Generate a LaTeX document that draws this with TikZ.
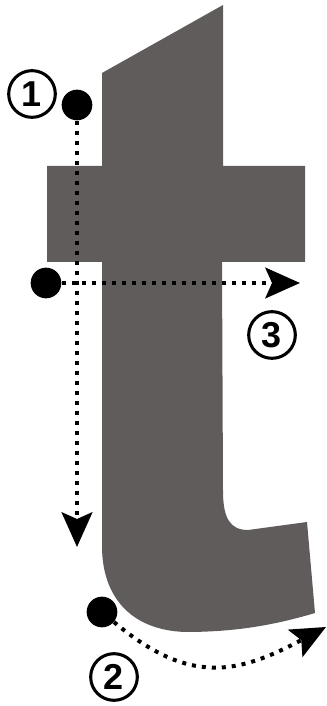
\documentclass[tikz,border=0pt]{standalone}
\usepackage{fontspec}
\setmainfont{Liberation Sans}
\usetikzlibrary{arrows.meta}
\definecolor{glyphgray}{RGB}{96,92,92}
\tikzstyle{blob} = [circle, fill=black, inner sep=0pt, minimum size=23pt]
\tikzstyle{marker} = [circle, draw=black, line width=2.3pt, inner sep=0pt, minimum size=35pt, font=\fontsize{27}{27}\selectfont\bfseries]
\tikzstyle{trail} = [line width=3pt, dash pattern=on 3pt off 4.5pt, -{Stealth[length=26pt, width=23pt, inset=5pt]}]

\begin{document}
\begin{tikzpicture}[x=0.75pt, y=0.75pt]
        \useasboundingbox (0,0) rectangle (327,706);

        % letter t
        \fill [glyphgray] (102,633) -- (223,701) -- (223,540) -- (305,540) -- (305,444) -- (222,444)
            -- (223,215) .. controls (223,188) and (230,176) .. (248,176) -- (307,184) -- (315,93)
            .. controls (265,78) and (225,74) .. (185,74) .. controls (130,76) and (102,110) .. (102,160)
            -- (102,444) -- (47,444) -- (47,540) -- (102,540) -- cycle;

        \node (dot1) [blob] at (77,601) {};
        \node (dot3) [blob] at (46,423) {};
        \node (dot2) [blob] at (102,94) {};
        \coordinate (tip1) at (77,159);
        \coordinate (tip3) at (300,423);
        \coordinate (tip2) at (326,79);

        \node (num1) [marker] at (32,612) {1};
        \node (num3) [marker] at (272,371) {3};
        \node (num2) [marker] at (114,29) {2};

        % Arrows
        \draw [trail] (dot1) -- (tip1);
        \draw [trail] (dot3) -- (tip3);
        \draw [trail] (dot2) to[out=-40, in=208, looseness=1.2] (tip2);

\end{tikzpicture}
\end{document}
